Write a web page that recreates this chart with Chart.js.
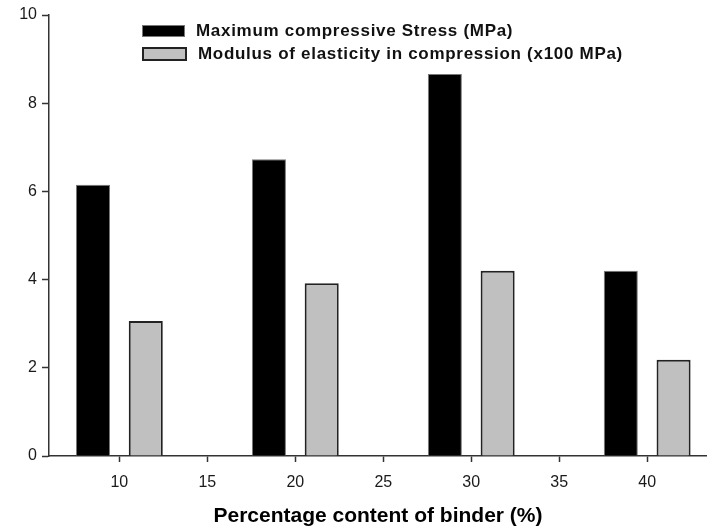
<!DOCTYPE html>
<html>
<head>
<meta charset="utf-8">
<script src="https://cdn.jsdelivr.net/npm/chart.js@4"></script>
<style>
  body { margin: 0; background: #fff; }
  #wrap { position: relative; width: 707px; height: 529px; }
  #legend {
    position: absolute; left: 142px; top: 19px;
    font-family: "Liberation Sans", Arial, sans-serif;
    font-weight: bold; font-size: 17px; letter-spacing: 0.7px; color: #111;
  }
  .row { display: flex; align-items: center; height: 23px; }
  .box { width: 41px; height: 10px; margin-right: 11px; }
</style>
</head>
<body>
<div id="wrap">
  <canvas id="chart" width="707" height="529"></canvas>
  <div id="legend"></div>
</div>
<script>
// data
const binderContent = [10, 20, 30, 40];
const maxStress = [6.15, 6.73, 8.66, 4.2];
const modulus = [3.06, 3.92, 4.2, 2.18];
const seriesLabels = [
  "Maximum compressive Stress (MPa)",
  "Modulus of elasticity in compression (x100 MPa)",
];
const xTickValues = [10, 15, 20, 25, 30, 35, 40];
const yTickValues = [0, 2, 4, 6, 8, 10];

const fillColors = ["#000000", "#c0c0c0"];
const edgeColors = ["#777777", "#222222"];
const edgeWidths = [1, 2];

const axisColor = "#333";
const tickFont = { family: "Liberation Sans", size: 16 };

const toPoints = (vals) => binderContent.map((x, i) => ({ x: x, y: vals[i] }));

new Chart(document.getElementById("chart"), {
  type: "bar",
  data: {
    datasets: [maxStress, modulus].map((vals, i) => ({
      label: seriesLabels[i],
      data: toPoints(vals),
      backgroundColor: fillColors[i],
      borderColor: edgeColors[i],
      borderWidth: edgeWidths[i],
      categoryPercentage: 1.2,
      barPercentage: 0.645,
    })),
  },
  options: {
    responsive: false,
    animation: false,
    layout: { padding: { top: 15, right: 0, left: 0, bottom: 0 } },
    scales: {
      x: {
        type: "linear",
        offset: false,
        min: 6,
        max: 43.4,
        afterBuildTicks: (s) => { s.ticks = xTickValues.map((v) => ({ value: v })); },
        afterFit: (s) => { s.height = 73; },
        grid: { offset: false, drawOnChartArea: false, color: axisColor, tickLength: 6, tickWidth: 1.5 },
        border: { color: axisColor, width: 1.5 },
        ticks: { color: "#1a1a1a", font: tickFont, padding: 11, maxRotation: 0 },
        title: {
          display: true,
          text: "Percentage content of binder (%)",
          color: "#000",
          font: { family: "Liberation Sans", size: 21, weight: "bold" },
          padding: { top: 4, bottom: 0 },
        },
      },
      y: {
        min: 0,
        max: 10,
        afterBuildTicks: (s) => { s.ticks = yTickValues.map((v) => ({ value: v })); },
        afterFit: (s) => { s.width = 49; },
        grid: { drawOnChartArea: false, color: axisColor, tickLength: 7, tickWidth: 1.5 },
        border: { color: axisColor, width: 1.5 },
        ticks: { color: "#1a1a1a", font: tickFont, padding: 5 },
      },
    },
    plugins: {
      legend: { display: false },
      tooltip: { enabled: false },
    },
  },
});

// legend as html text
const legendEl = document.getElementById("legend");
seriesLabels.forEach((lab, i) => {
  const row = document.createElement("div");
  row.className = "row";
  const box = document.createElement("span");
  box.className = "box";
  box.style.background = fillColors[i];
  box.style.border = edgeWidths[i] + "px solid " + edgeColors[i];
  const txt = document.createElement("span");
  txt.textContent = lab;
  row.appendChild(box);
  row.appendChild(txt);
  legendEl.appendChild(row);
});
</script>
</body>
</html>
